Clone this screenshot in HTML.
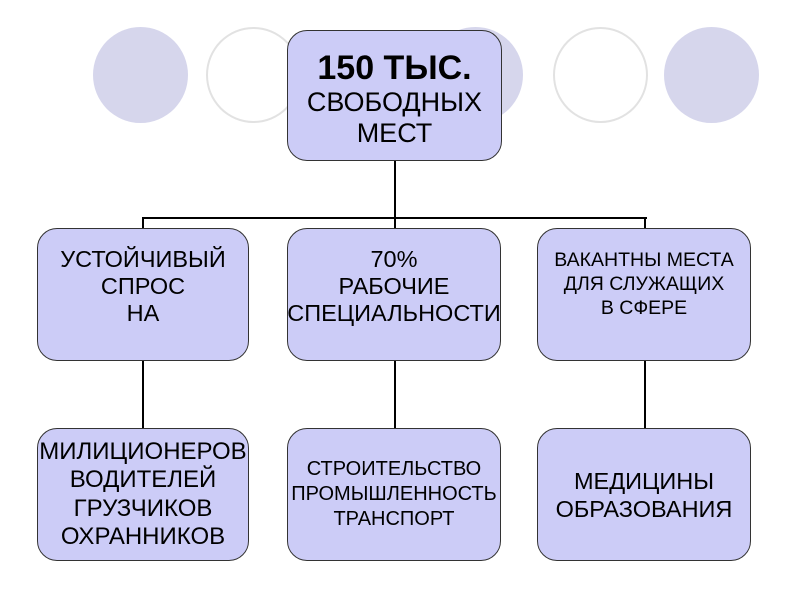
<!DOCTYPE html>
<html><head><meta charset="utf-8"><style>
body{margin:0;width:800px;height:600px;background:#fff;overflow:hidden;position:relative;font-family:"Liberation Sans",sans-serif;}
.c{position:absolute;border-radius:50%;width:95px;height:96px;top:27px;}
.f{background:#d6d6ec;}
.o{border:2px solid #e2e2e2;box-sizing:border-box;background:#fff;}
.b{position:absolute;background:#ccccf7;border:1.5px solid #333;border-radius:20px;box-sizing:border-box;display:flex;flex-direction:column;align-items:center;justify-content:center;text-align:center;color:#000;white-space:nowrap;}
.l{position:absolute;background:#000;}
</style></head><body>
<div class="c f" style="left:93px"></div>
<div class="c o" style="left:206px"></div>
<div class="c f" style="left:428px"></div>
<div class="c o" style="left:553px"></div>
<div class="c f" style="left:664px"></div>

<div class="l" style="left:394px;top:160px;width:2px;height:59px"></div>
<div class="l" style="left:142px;top:217px;width:505px;height:2px"></div>
<div class="l" style="left:142px;top:217px;width:2px;height:12px"></div>
<div class="l" style="left:394px;top:217px;width:2px;height:12px"></div>
<div class="l" style="left:644px;top:217px;width:2px;height:12px"></div>
<div class="l" style="left:142px;top:360px;width:2px;height:69px"></div>
<div class="l" style="left:394px;top:360px;width:2px;height:69px"></div>
<div class="l" style="left:644px;top:360px;width:2px;height:69px"></div>

<div class="b" style="left:287px;top:30px;width:215px;height:131px;line-height:31px;padding-top:6px">
<div style="font-size:34px;font-weight:bold;line-height:38px">150 ТЫС.</div>
<div style="font-size:27px">СВОБОДНЫХ</div>
<div style="font-size:27px">МЕСТ</div></div>

<div class="b" style="left:37px;top:228px;width:212px;height:133px;font-size:23.5px;line-height:27px;padding-bottom:16px">
<div>УСТОЙЧИВЫЙ</div><div>СПРОС</div><div>НА</div></div>
<div class="b" style="left:287px;top:228px;width:214px;height:133px;font-size:23.5px;line-height:27px;padding-bottom:16px">
<div>70%</div><div>РАБОЧИЕ</div><div>СПЕЦИАЛЬНОСТИ</div></div>
<div class="b" style="left:537px;top:228px;width:214px;height:133px;font-size:19.5px;line-height:24px;padding-bottom:22px">
<div>ВАКАНТНЫ МЕСТА</div><div>ДЛЯ СЛУЖАЩИХ</div><div>В СФЕРЕ</div></div>

<div class="b" style="left:37px;top:428px;width:212px;height:133px;font-size:24px;line-height:28.5px">
<div>МИЛИЦИОНЕРОВ</div><div>ВОДИТЕЛЕЙ</div><div>ГРУЗЧИКОВ</div><div>ОХРАННИКОВ</div></div>
<div class="b" style="left:287px;top:428px;width:214px;height:133px;font-size:20px;line-height:25px">
<div>СТРОИТЕЛЬСТВО</div><div>ПРОМЫШЛЕННОСТЬ</div><div>ТРАНСПОРТ</div></div>
<div class="b" style="left:537px;top:428px;width:214px;height:133px;font-size:23.5px;line-height:28px">
<div>МЕДИЦИНЫ</div><div>ОБРАЗОВАНИЯ</div></div>
</body></html>
